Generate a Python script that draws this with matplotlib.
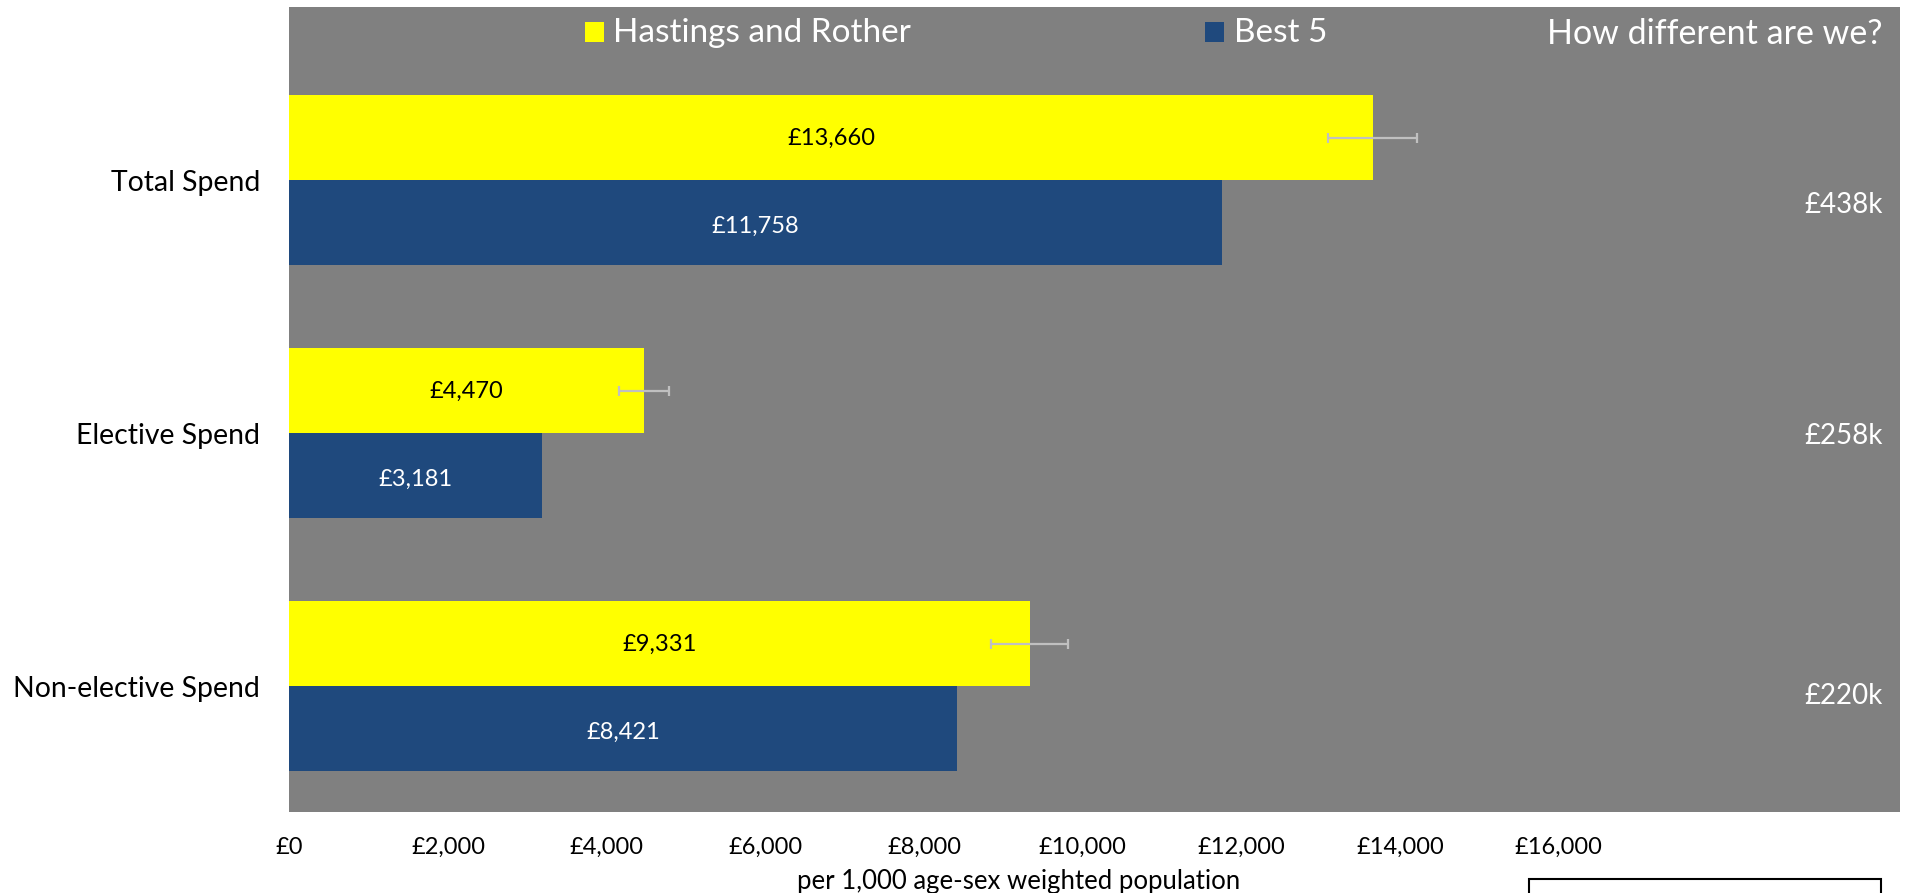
import matplotlib.pyplot as plt
from matplotlib.patches import Rectangle
from matplotlib.transforms import blended_transform_factory

categories = ['Total Spend', 'Elective Spend', 'Non-elective Spend']
hastings = [13660, 4470, 9331]
hastings_err = [562, 310, 480]
best5 = [11758, 3181, 8421]
difference = ['£438k', '£258k', '£220k']
xticks = [0, 2000, 4000, 6000, 8000, 10000, 12000, 14000, 16000]

YELLOW = '#FFFF00'
BLUE = '#1F497D'
GREY = '#808080'
plt.rcParams['font.family'] = ['Lato', 'DejaVu Sans']

W, H = 1906, 893
fig = plt.figure(figsize=(W / 100, H / 100), dpi=100)

# grey chart area in pixel coordinates
left, right, top, bottom = 289.4, 1900, 7, 812
ax = fig.add_axes([left / W, (H - bottom) / H, (right - left) / W, (bottom - top) / H])
ax.set_facecolor(GREY)
for s in ax.spines.values():
  s.set_visible(False)

px_per_unit = 0.07932
ax.set_xlim(0, (right - left) / px_per_unit)
ax.set_ylim(2.498, -0.684)

y = list(range(len(categories)))
bh = 0.336
y_h = [v - bh / 2 for v in y]
y_b = [v + bh / 2 for v in y]
ax.barh(y_h, hastings, height=bh, color=YELLOW, edgecolor='none')
ax.barh(y_b, best5, height=bh, color=BLUE, edgecolor='none')
ax.errorbar(hastings, y_h, xerr=hastings_err, fmt='none', ecolor='#C0C0C0',
            elinewidth=1.6, capsize=3.6, capthick=1.6)

for yy, v in zip(y_h, hastings):
  ax.text(v / 2, yy + 0.005, f'£{v:,}', ha='center', va='center', fontsize=17, color='black')
for yy, v in zip(y_b, best5):
  ax.text(v / 2, yy + 0.014, f'£{v:,}', ha='center', va='center', fontsize=17, color='white')

tr = blended_transform_factory(ax.transAxes, ax.transData)
diff_y = [0.10, 1.01, 2.04]
for yy, t in zip(diff_y, difference):
  ax.text(0.9894, yy, t, transform=tr, ha='right', va='center', fontsize=20, color='white')

ax.set_yticks(y)
ax.set_yticklabels(categories, fontsize=20.4)
ax.set_xticks(xticks)
ax.set_xticklabels([f'£{v:,}' for v in xticks], fontsize=17)
ax.tick_params(axis='y', length=0, pad=21)
ax.tick_params(axis='x', length=0, pad=18)

# legend and header
fig.patches.append(Rectangle((585 / W, 1 - 42 / H), 19 / W, 20 / H, transform=fig.transFigure,
                             facecolor=YELLOW, edgecolor='none', zorder=5))
fig.text(613 / W, 1 - 33 / H, 'Hastings and Rother', fontsize=24, color='white', va='center')
fig.patches.append(Rectangle((1205 / W, 1 - 42 / H), 19 / W, 20 / H, transform=fig.transFigure,
                             facecolor=BLUE, edgecolor='none', zorder=5))
fig.text(1234 / W, 1 - 33 / H, 'Best 5', fontsize=24, color='white', va='center')
fig.text(1883 / W, 1 - 34 / H, 'How different are we?', fontsize=24.5, color='white',
         va='center', ha='right')

fig.text(1019 / W, 1 - 881 / H, 'per 1,000 age-sex weighted population', fontsize=18.5,
         ha='center', va='center')

# empty box at bottom right
fig.patches.append(Rectangle((1529 / W, -0.05), (1881 - 1529) / W, 0.05 + (H - 879) / H,
                             transform=fig.transFigure, facecolor='white',
                             edgecolor='black', lw=1.5))

fig.savefig('out.png', dpi=100)
